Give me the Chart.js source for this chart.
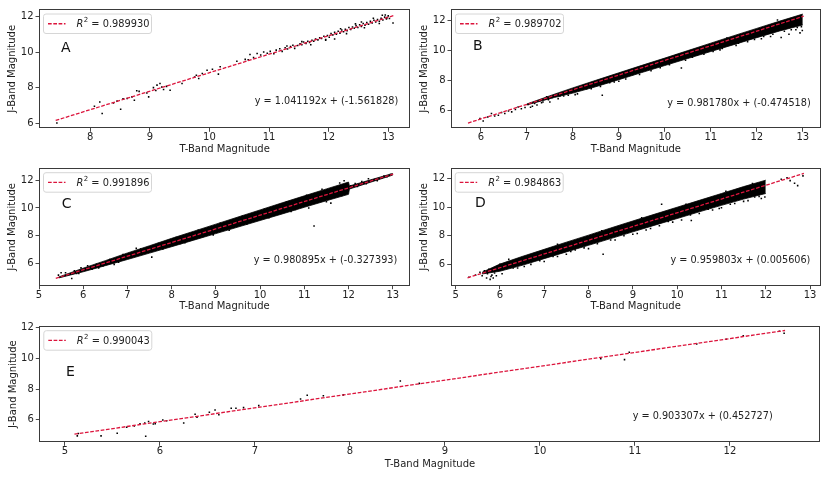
<!DOCTYPE html>
<html>
<head>
<meta charset="utf-8">
<script src="https://cdn.jsdelivr.net/npm/chart.js@4.4.1/dist/chart.umd.min.js"></script>
<style>
  body { margin: 0; background: #fff; width: 830px; height: 479px; overflow: hidden; }
  canvas { position: absolute; }
</style>
</head>
<body>
<canvas id="plot-a" width="415" height="160" style="left:0px;top:0px"></canvas>
<canvas id="plot-b" width="415" height="160" style="left:415px;top:0px"></canvas>
<canvas id="plot-c" width="415" height="160" style="left:0px;top:160px"></canvas>
<canvas id="plot-d" width="415" height="160" style="left:415px;top:160px"></canvas>
<canvas id="plot-e" width="830" height="161" style="left:0px;top:318px"></canvas>
<script>
// ---- data (T-band, J-band magnitudes) ----

// panel A
const starsA = [[7.44,6.02],[8.07,6.96],[8.16,7.20],[8.20,6.55],[8.39,7.15],[8.45,7.25],[8.51,6.79],[8.55,7.38],
  [8.62,7.40],[8.70,7.49],[8.74,7.30],[8.78,7.83],[8.82,7.80],[8.95,7.71],[8.98,7.49],[9.06,8.01],[9.10,7.85],
  [9.12,8.15],[9.17,8.24],[9.20,8.05],[9.23,7.90],[9.28,8.08],[9.34,7.86],[9.54,8.24],[9.75,8.60],[9.78,8.71],
  [9.82,8.52],[9.88,8.80],[9.96,8.99],[10.05,9.05],[10.15,8.77],[10.18,9.18],[10.46,9.50],[10.60,9.60],
  [10.65,9.58],[10.68,9.88],[10.74,9.70],[10.80,9.93],[10.86,9.85],[10.91,10.02],[10.97,9.95],
  [11.02,10.05],[11.08,9.92],[11.12,10.12],[11.18,10.20],[11.22,10.05],[11.27,10.25],[11.31,10.18],[11.36,10.33],
  [11.40,10.40],[11.43,10.22],[11.48,10.38],[11.52,10.48],[11.55,10.42],[11.58,10.58],[11.62,10.50],[11.65,10.62],
  [11.68,10.55],[11.72,10.68],[11.75,10.62],[11.78,10.75],[11.82,10.70],[11.85,10.82],[11.88,10.78],[11.92,10.90],
  [11.95,10.72],[11.98,10.95],[12.01,10.85],[12.04,11.05],[12.07,10.98],[12.10,11.12],[12.13,11.02],[12.16,11.18],
  [12.19,11.08],[12.22,11.25],[12.25,11.16],[12.28,11.30],[12.31,11.22],[12.34,11.40],[12.37,11.28],[12.40,11.42],
  [12.43,11.35],[12.46,11.50],[12.49,11.40],[12.52,11.55],[12.55,11.46],[12.58,11.62],[12.61,11.52],[12.64,11.68],
  [12.67,11.58],[12.70,11.74],[12.73,11.65],[12.76,11.80],[12.79,11.70],[12.82,11.85],[12.85,11.75],[12.88,11.92],
  [12.91,11.82],[12.94,11.98],[12.97,11.88],[13.00,12.05],[12.98,11.95],[13.02,11.90],[13.08,11.65],[12.10,10.75],
  [11.95,10.68],[12.30,11.05],[12.60,11.38],[11.70,10.42],[12.45,11.60],[12.75,11.92],[12.90,12.08],[11.55,10.60],
  [11.30,10.35],[12.20,11.32],[12.55,11.70],[12.85,11.62],[12.95,12.10]];
const fitA = [[7.42,6.164],[13.09,12.067]];

// panel B
const starsB = [[5.98,5.44],[6.05,5.28],[6.15,5.55],[6.23,5.78],[6.30,5.62],[6.38,5.66],[6.45,5.85],[6.52,5.78],
  [6.60,5.95],[6.67,5.89],[6.75,6.05],[6.81,6.22],[6.88,6.10],[6.96,6.18],[7.03,6.38],[7.08,6.20],[7.12,6.27],
  [7.17,6.45],[7.22,6.35],[7.28,6.67],[7.32,6.50],[7.35,6.56],[7.40,6.75],[7.43,6.90],[7.47,6.70],[7.50,6.56],
  [7.55,6.85],[7.61,7.00],[7.68,6.78],[7.72,6.95],[7.79,7.12],[7.90,7.00],[8.05,7.05],[8.30,7.45],[8.64,7.00],
  [8.90,7.90],[9.30,8.40],[9.60,8.75],[10.36,8.84],[10.70,9.70],[11.20,10.05],[11.60,10.50],[12.10,10.80],
  [12.53,10.88],[12.70,11.10],[12.94,11.19],[12.85,11.40],[12.30,10.95],
  [7.80,6.95],[8.10,7.10],[8.25,7.70],[8.40,7.45],[8.60,7.60],[8.80,7.85],[9.00,7.95],[9.15,8.10],[9.25,8.70],
  [9.45,8.40],[9.70,8.65],[9.90,8.85],[10.10,9.05],[10.25,9.70],[10.45,9.35],[10.60,9.55],[10.85,9.75],
  [11.05,9.95],[11.25,10.15],[11.35,10.85],[11.55,10.35],[11.80,10.60],[11.95,10.75],[12.15,10.95],[12.35,11.10],
  [12.45,12.05],[12.60,11.30],[12.75,11.40],[12.88,11.55],[12.97,11.60],[12.99,11.35]];
const bandTB = [7.0, 7.6, 8, 8.5, 9, 9.5, 10, 10.5, 11, 11.5, 12, 12.5, 13.0];
const bandHiB = [6.42, 7.08, 7.50, 8.01, 8.51, 9.01, 9.50, 10.00, 10.50, 11.00, 11.49, 11.98, 12.45];
const bandLoB = [6.36, 6.86, 7.15, 7.58, 8.05, 8.53, 9.00, 9.47, 9.94, 10.40, 10.87, 11.32, 11.72];
const fitB = [[5.72,5.141],[13.02,12.308]];

// panel C
const starsC = [[5.44,5.18],[5.50,5.35],[5.74,4.94],[5.85,5.29],[5.95,5.70],[6.20,5.60],[6.45,5.85],[6.55,6.20],
  [6.80,6.10],[7.55,6.47],[7.20,7.10],[8.20,7.45],[8.94,8.07],[9.80,9.10],[10.30,9.95],[10.80,9.90],[11.22,8.71],
  [11.60,10.35],[11.90,11.95],[12.20,11.55],[12.40,11.75],[12.60,12.05],[12.75,12.15],[12.87,12.24],[12.95,12.40],
  [12.80,12.30],[12.30,11.90],[12.65,11.95],[12.15,11.75],[12.45,12.10],
  [5.60,5.35],[5.80,5.50],[5.90,5.30],[6.10,5.85],[6.30,5.95],[6.35,5.70],[6.60,6.30],[6.70,5.95],[6.90,6.65],
  [7.10,6.55],[7.30,7.05],[7.40,6.75],[7.70,7.45],[7.80,7.05],[8.10,7.88],[8.30,7.50],[8.60,8.40],[8.70,7.95],
  [9.10,8.90],[9.30,8.40],[9.60,9.40],[9.70,8.85],[10.10,9.90],[10.20,9.30],[10.60,10.42],[10.70,9.75],
  [11.05,10.92],[11.10,10.00],[11.40,11.35],[11.50,10.45],[11.80,11.80],[11.85,10.90],[12.05,11.60]];
const bandTC = [5.45, 6.0, 6.5, 7.0, 7.5, 8.0, 8.5, 9.0, 9.5, 10.0, 10.5, 11.0, 11.5, 12.0, 12.02, 12.5, 13.0];
const bandHiC = [5.05, 5.68, 6.22, 6.77, 7.29, 7.82, 8.33, 8.84, 9.35, 9.86, 10.37, 10.87, 11.37, 11.86, 11.58, 12.02, 12.48];
const bandLoC = [4.98, 5.42, 5.86, 6.30, 6.76, 7.22, 7.69, 8.16, 8.63, 9.10, 9.57, 10.05, 10.52, 10.98, 11.36, 11.85, 12.36];
const fitC = [[5.38,4.950],[13.01,12.434]];

// panel D
const starsD = [[5.30,5.10],[5.45,5.25],[5.55,5.45],[5.60,5.20],[5.65,5.55],[5.70,5.05],[5.72,5.35],[5.75,5.65],
  [5.78,4.95],[5.80,5.15],[5.82,5.25],[5.85,5.05],[5.88,5.40],[5.90,5.75],[5.92,5.20],[5.95,5.90],[6.00,6.00],
  [6.05,5.35],[6.15,5.80],[6.30,5.75],[6.55,5.85],[6.75,6.25],[7.00,6.20],[7.30,6.55],[7.60,6.90],[8.00,7.10],
  [8.33,6.70],[8.60,7.70],[9.00,8.10],[9.40,8.50],[9.65,10.20],[9.90,8.95],[10.30,9.45],[10.32,9.07],[10.80,9.80],
  [11.00,9.95],[11.20,10.20],[11.50,10.40],[11.75,10.70],[11.90,10.60],[12.35,11.95],[12.48,12.05],[12.55,11.85],
  [12.65,11.66],[12.72,11.50],[12.84,12.18],
  [6.20,6.35],[6.40,5.75],[6.70,6.00],[6.90,6.25],[7.20,6.55],[7.50,6.70],[7.70,7.00],[7.90,7.15],[8.20,7.45],
  [8.50,7.70],[8.80,8.00],[9.10,8.15],[9.30,8.40],[9.60,8.70],[9.80,9.00],[10.10,9.10],[10.50,9.55],[10.70,9.85],
  [10.95,9.90],[11.30,10.25],[11.60,10.45],[11.85,10.75],[11.98,10.70],[7.30,7.40],[8.30,8.35],[9.20,9.25],
  [10.20,10.20],[11.10,11.10],[11.70,11.65]];
const bandTD = [5.6, 6, 6.5, 7, 7.5, 8, 8.5, 9, 9.5, 10, 10.5, 11, 11.5, 12.0];
const bandHiD = [5.45, 6.02, 6.55, 7.05, 7.55, 8.04, 8.54, 9.03, 9.51, 9.99, 10.47, 10.95, 11.43, 11.88];
const bandLoD = [5.33, 5.52, 5.93, 6.40, 6.87, 7.33, 7.80, 8.27, 8.74, 9.20, 9.67, 10.12, 10.56, 10.95];
const fitD = [[5.27,5.064],[12.86,12.349]];

// panel E
const starsE = [[5.13,4.95],[5.14,5.10],[5.38,4.95],[5.55,5.12],[5.65,5.51],[5.73,5.59],[5.79,5.74],[5.84,5.79],
  [5.85,4.93],[5.88,5.89],[5.93,5.72],[5.95,5.74],[6.03,5.98],[6.07,5.94],[6.25,5.79],[6.37,6.36],[6.39,6.17],
  [6.52,6.49],[6.58,6.64],[6.62,6.32],[6.75,6.75],[6.80,6.75],[6.88,6.79],[7.04,6.92],[7.48,7.35],[7.55,7.60],
  [7.72,7.56],[7.93,7.62],[8.53,8.52],[8.73,8.37],[10.64,9.97],[10.89,9.92],[10.94,10.40],[11.65,10.94],
  [11.96,11.25],[12.14,11.47],[12.52,11.77],[12.57,11.64]];
const fitE = [[5.10,5.060],[12.58,11.816]];

const equations = {
  A: 'y = 1.041192x + (-1.561828)',
  B: 'y = 0.981780x + (-0.474518)',
  C: 'y = 0.980895x + (-0.327393)',
  D: 'y = 0.959803x + (0.005606)',
  E: 'y = 0.903307x + (0.452727)'
};
const rSquared = { A: '0.989930', B: '0.989702', C: '0.991896', D: '0.984863', E: '0.990043' };

const FONT = "'DejaVu Sans', sans-serif";

function toXY(pairs) {
    return pairs.map(p => ({ x: p[0], y: p[1] }));
}

function bandLine(ts, js) {
    return ts.map((t, i) => ({ x: t, y: js[i] }));
}

// frame, panel letter, legend box and fit equation
const decorations = {
    id: 'decorations',
    afterDraw(chart, args, o) {
        const ctx = chart.ctx;
        const a = chart.chartArea;
        ctx.save();

        ctx.strokeStyle = '#3a3a3a';
        ctx.lineWidth = 1;
        ctx.strokeRect(Math.round(a.left) + 0.5, Math.round(a.top) + 0.5,
            Math.round(a.right - a.left) - 1, Math.round(a.bottom - a.top) - 1);

        // panel letter
        ctx.fillStyle = '#111';
        ctx.font = '14px ' + FONT;
        ctx.textBaseline = 'alphabetic';
        ctx.textAlign = 'left';
        ctx.fillText(o.letter, a.left + o.letterX, a.top + o.letterY);

        // equation
        ctx.font = '9.7px ' + FONT;
        ctx.textAlign = 'right';
        ctx.textBaseline = 'middle';
        ctx.fillStyle = '#222';
        ctx.fillText(o.eq, a.right - o.eqRight, a.top + o.eqY);

        // legend
        const bx = a.left + 4.5, by = a.top + 4.7, bw = 108, bh = 19.5;
        ctx.beginPath();
        ctx.roundRect(bx, by, bw, bh, 2.5);
        ctx.fillStyle = 'rgba(255,255,255,0.85)';
        ctx.fill();
        ctx.strokeStyle = '#d6d6d6';
        ctx.lineWidth = 1;
        ctx.stroke();

        const my = by + bh / 2;
        ctx.beginPath();
        ctx.setLineDash([3.7, 1.6]);
        ctx.strokeStyle = 'crimson';
        ctx.lineWidth = 1.3;
        ctx.moveTo(bx + 4.5, my);
        ctx.lineTo(bx + 22, my);
        ctx.stroke();
        ctx.setLineDash([]);

        ctx.fillStyle = '#222';
        ctx.textAlign = 'left';
        ctx.textBaseline = 'middle';
        let tx = bx + 33;
        ctx.font = 'italic 9.8px ' + FONT;
        ctx.fillText('R', tx, my + 0.5);
        tx += ctx.measureText('R').width + 0.5;
        ctx.font = '7px ' + FONT;
        ctx.fillText('2', tx, my - 3.2);
        tx += ctx.measureText('2').width;
        ctx.font = '9.8px ' + FONT;
        ctx.fillText(' = ' + o.r2, tx, my + 0.5);

        ctx.restore();
    }
};

function makePanel(id, cfg) {
    const canvasEl = document.getElementById(id);
    const box = cfg.box;   // canvas rect in page coords [x, y, w, h]
    const area = cfg.area; // plot rect in page coords [l, t, r, b]

    const datasets = [{
        data: toXY(cfg.fit),
        showLine: true,
        borderColor: 'crimson',
        borderDash: [3.7, 1.6],
        borderWidth: 1.3,
        pointRadius: 0,
        order: 0
    }, {
        data: toXY(cfg.stars),
        pointStyle: 'rect',
        pointRadius: 1.1,
        backgroundColor: '#000',
        borderWidth: 0,
        order: 1
    }];

    if (cfg.bandT) {
        datasets.push({
            data: bandLine(cfg.bandT, cfg.bandHi),
            showLine: true,
            borderColor: '#000',
            borderWidth: 0.8,
            pointRadius: 0,
            fill: false,
            order: 2
        });
        datasets.push({
            data: bandLine(cfg.bandT, cfg.bandLo),
            showLine: true,
            borderColor: '#000',
            borderWidth: 0.8,
            pointRadius: 0,
            backgroundColor: '#000',
            fill: '-1',
            order: 2
        });
    }

    const tickFont = { family: FONT, size: 10 };

    return new Chart(canvasEl.getContext('2d'), {
        type: 'scatter',
        data: { datasets: datasets },
        plugins: [decorations],
        options: {
            responsive: false,
            animation: false,
            events: [],
            layout: {
                padding: { left: 0, bottom: 0, top: area[1] - box[1], right: box[0] + box[2] - area[2] }
            },
            plugins: {
                legend: { display: false },
                tooltip: { enabled: false },
                decorations: {
                    letter: cfg.letter, letterX: cfg.letterPos[0], letterY: cfg.letterPos[1],
                    eq: equations[cfg.letter], eqRight: cfg.eqPos[0], eqY: cfg.eqPos[1],
                    r2: rSquared[cfg.letter]
                }
            },
            scales: {
                x: {
                    type: 'linear',
                    min: cfg.xRange[0],
                    max: cfg.xRange[1],
                    afterFit: function(scale) { scale.height = box[1] + box[3] - area[3]; },
                    border: { display: false },
                    grid: { drawOnChartArea: false, tickLength: 3.5, color: '#333', lineWidth: 0.9 },
                    ticks: {
                        stepSize: 1, includeBounds: false, padding: 0, color: '#222', font: tickFont,
                        maxRotation: 0, autoSkip: false,
                        callback: v => String(v)
                    },
                    title: {
                        display: true, text: 'T-Band Magnitude', color: '#222', font: tickFont,
                        padding: { top: 0, bottom: cfg.xTitlePad }
                    }
                },
                y: {
                    type: 'linear',
                    min: cfg.yRange[0],
                    max: cfg.yRange[1],
                    afterFit: function(scale) { scale.width = area[0] - box[0]; },
                    border: { display: false },
                    grid: { drawOnChartArea: false, tickLength: 3.5, color: '#333', lineWidth: 0.9 },
                    ticks: {
                        stepSize: 2, includeBounds: false, padding: 2, color: '#222', font: tickFont,
                        autoSkip: false,
                        callback: v => String(v)
                    },
                    title: {
                        display: true, text: 'J-Band Magnitude', color: '#222', font: tickFont,
                        padding: { top: cfg.yTitlePad, bottom: 0 }
                    }
                }
            }
        }
    });
}

makePanel('plot-a', {
    letter: 'A', stars: starsA, fit: fitA,
    box: [0, 0, 415, 160], area: [39, 9.3, 410.3, 128.3],
    xRange: [7.14, 13.37], yRange: [5.72, 12.42],
    letterPos: [22, 42.7], eqPos: [12, 92.4], xTitlePad: 4.3, yTitlePad: 6.3
});

makePanel('plot-b', {
    letter: 'B', stars: starsB, fit: fitB, bandT: bandTB, bandHi: bandHiB, bandLo: bandLoB,
    box: [415, 0, 415, 160], area: [451, 9.3, 820.7, 128.3],
    xRange: [5.35, 13.39], yRange: [4.79, 12.77],
    letterPos: [22, 40.7], eqPos: [10, 94], xTitlePad: 4.7, yTitlePad: 3
});

makePanel('plot-c', {
    letter: 'C', stars: starsC, fit: fitC, bandT: bandTC, bandHi: bandHiC, bandLo: bandLoC,
    box: [0, 160, 415, 160], area: [39, 166.7, 410, 285.7],
    xRange: [5.0, 13.39], yRange: [4.42, 12.87],
    letterPos: [22.7, 40], eqPos: [12.7, 92.3], xTitlePad: 7.3, yTitlePad: 6.3
});

makePanel('plot-d', {
    letter: 'D', stars: starsD, fit: fitD, bandT: bandTD, bandHi: bandHiD, bandLo: bandLoD,
    box: [415, 160, 415, 160], area: [450.7, 166.7, 820.7, 285.7],
    xRange: [4.89, 13.24], yRange: [4.51, 12.73],
    letterPos: [24.3, 39.3], eqPos: [10.3, 92.7], xTitlePad: 8, yTitlePad: 3
});

makePanel('plot-e', {
    letter: 'E', stars: starsE, fit: fitE,
    box: [0, 318, 830, 161], area: [39.3, 323.3, 820.7, 442.3],
    xRange: [4.73, 12.955], yRange: [4.53, 12.11],
    letterPos: [26.7, 50], eqPos: [48, 90.7], xTitlePad: 9, yTitlePad: 7
});
</script>
</body>
</html>
